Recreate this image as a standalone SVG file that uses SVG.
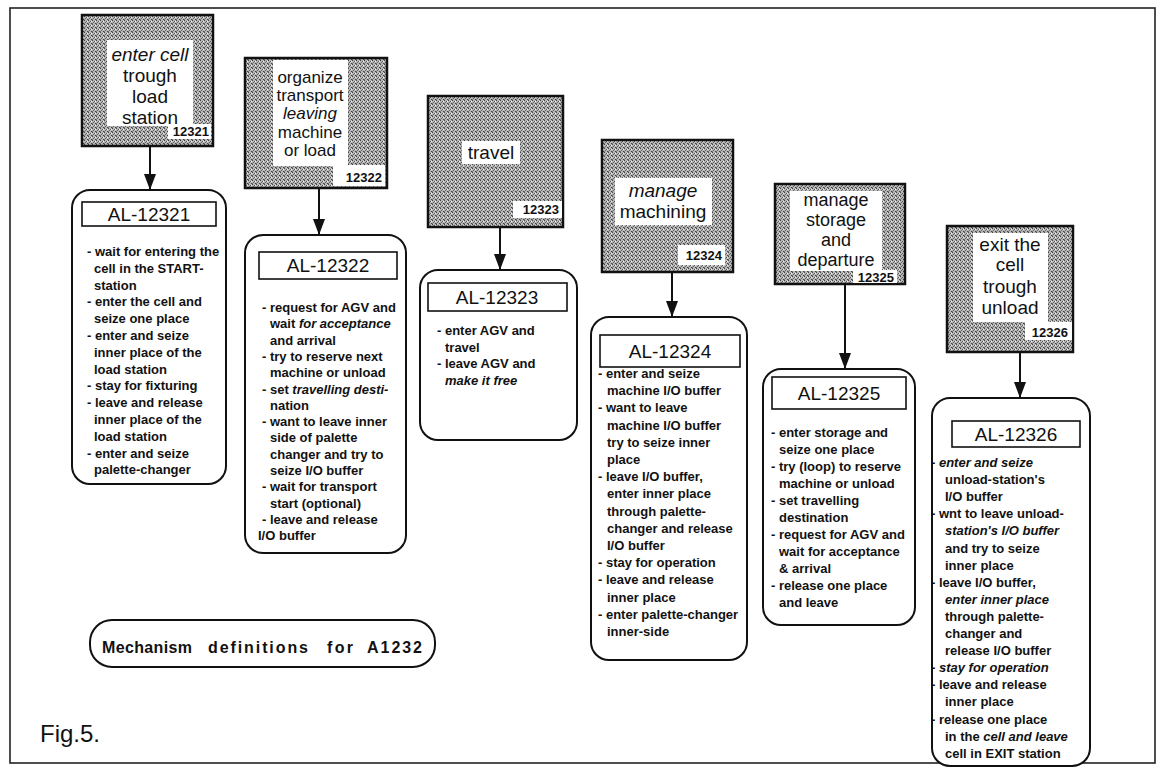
<svg xmlns="http://www.w3.org/2000/svg" width="1166" height="769" viewBox="0 0 1166 769">
<defs>
<pattern id="ht" width="4" height="4" patternUnits="userSpaceOnUse">
<rect width="4" height="4" fill="#b8b8b8"/>
<rect x="0" y="0" width="1" height="1" fill="#444"/>
<rect x="2" y="1" width="1" height="1" fill="#555"/>
<rect x="1" y="2" width="1" height="1" fill="#666"/>
<rect x="3" y="3" width="1" height="1" fill="#444"/>
<rect x="3" y="1" width="1" height="1" fill="#eee"/>
<rect x="0" y="3" width="1" height="1" fill="#777"/>
</pattern>
<marker id="ah" viewBox="0 0 16 12" refX="16" refY="6" markerWidth="16" markerHeight="12" markerUnits="userSpaceOnUse" orient="auto">
<path d="M0,0 L16,6 L0,12 Z" fill="#111"/>
</marker>
</defs>
<style>
.sh{fill:url(#ht);stroke:#111;stroke-width:2.5}
.wh{fill:#fff;stroke:none}
.rb{fill:#fff;stroke:#111;stroke-width:2}
.al{fill:#fff;stroke:#111;stroke-width:1.6}
.h{font-family:"Liberation Sans",Arial,sans-serif;font-size:19px;fill:#111;text-anchor:middle}
.h2{font-size:17px}
.h3{font-size:18px}
.n{font-family:"Liberation Sans",Arial,sans-serif;font-size:13px;font-weight:bold;fill:#111;text-anchor:end}
.at{font-family:"Liberation Sans",Arial,sans-serif;font-size:19px;fill:#111;text-anchor:middle}
.t{font-family:"Liberation Sans",Arial,sans-serif;font-size:13px;font-weight:bold;fill:#111}
.tt{font-family:"Liberation Sans",Arial,sans-serif;font-size:16px;font-weight:bold;fill:#111}
.i{font-style:italic}
.cn{fill:none;stroke:#111;stroke-width:2}
.fr{fill:none;stroke:#222;stroke-width:1.6}
</style>
<rect class="fr" x="10" y="8" width="1145" height="755"/>

<g id="connectors">
<line class="cn" x1="150" y1="146" x2="150" y2="190" marker-end="url(#ah)"/>
<line class="cn" x1="319" y1="188" x2="319" y2="235" marker-end="url(#ah)"/>
<line class="cn" x1="500" y1="227" x2="500" y2="270" marker-end="url(#ah)"/>
<line class="cn" x1="672" y1="272" x2="672" y2="317" marker-end="url(#ah)"/>
<line class="cn" x1="845" y1="284" x2="845" y2="369" marker-end="url(#ah)"/>
<line class="cn" x1="1020" y1="352" x2="1020" y2="398" marker-end="url(#ah)"/>
</g>

<g id="act-12321">
<rect class="sh" x="82" y="15" width="131" height="131"/>
<rect class="wh" x="107" y="40" width="86" height="86"/>
<rect class="wh" x="168" y="124" width="43" height="15"/>
<text class="h" x="150"><tspan class="i" x="150" y="61">enter cell</tspan><tspan x="150" y="82">trough</tspan><tspan x="150" y="103">load</tspan><tspan x="150" y="124">station</tspan></text>
<text class="n" x="209" y="136">12321</text>
</g>

<g id="act-12322">
<rect class="sh" x="245" y="58" width="142" height="130"/>
<rect class="wh" x="273" y="60" width="75" height="106"/>
<rect class="wh" x="333" y="165" width="52" height="21"/>
<text class="h h2"><tspan x="310" y="83">organize</tspan><tspan x="310" y="101">transport</tspan><tspan class="i" x="310" y="119">leaving</tspan><tspan x="310" y="138">machine</tspan><tspan x="310" y="156">or load</tspan></text>
<text class="n" x="382" y="182">12322</text>
</g>

<g id="act-12323">
<rect class="sh" x="428" y="96" width="135" height="131"/>
<rect class="wh" x="462" y="141" width="58" height="23"/>
<rect class="wh" x="513" y="201" width="49" height="17"/>
<text class="h" x="491" y="159">travel</text>
<text class="n" x="559" y="214">12323</text>
</g>

<g id="act-12324">
<rect class="sh" x="602" y="140" width="131" height="132"/>
<rect class="wh" x="615" y="178" width="97" height="47"/>
<rect class="wh" x="678" y="245" width="47" height="20"/>
<text class="h"><tspan class="i" x="663" y="197">manage</tspan><tspan x="663" y="218">machining</tspan></text>
<text class="n" x="722" y="260">12324</text>
</g>

<g id="act-12325">
<rect class="sh" x="775" y="184" width="130" height="100"/>
<rect class="wh" x="790" y="191" width="92" height="80"/>
<rect class="wh" x="853" y="270" width="44" height="13"/>
<text class="h h3"><tspan x="836" y="206">manage</tspan><tspan x="836" y="226">storage</tspan><tspan x="836" y="246">and</tspan><tspan x="836" y="266">departure</tspan></text>
<text class="n" x="894" y="282">12325</text>
</g>

<g id="act-12326">
<rect class="sh" x="947" y="226" width="126" height="126"/>
<rect class="wh" x="973" y="233" width="75" height="89"/>
<rect class="wh" x="1025" y="322" width="47" height="18"/>
<text class="h"><tspan x="1010" y="251">exit the</tspan><tspan x="1010" y="271">cell</tspan><tspan x="1010" y="293">trough</tspan><tspan x="1010" y="314">unload</tspan></text>
<text class="n" x="1068" y="337">12326</text>
</g>

<g id="al-12321">
<rect class="rb" x="72" y="190" width="154" height="294" rx="18"/>
<rect class="al" x="82" y="202" width="134" height="24"/>
<text class="at" x="149" y="221">AL-12321</text>
<text class="t">
<tspan x="87" y="256">- wait for entering the</tspan>
<tspan x="94" y="272.8">cell in the START-</tspan>
<tspan x="94" y="289.6">station</tspan>
<tspan x="87" y="306.4">- enter the cell and</tspan>
<tspan x="94" y="323.2">seize one place</tspan>
<tspan x="87" y="340">- enter and seize</tspan>
<tspan x="94" y="356.8">inner place of the</tspan>
<tspan x="94" y="373.6">load station</tspan>
<tspan x="87" y="390.4">- stay for fixturing</tspan>
<tspan x="87" y="407.2">- leave and release</tspan>
<tspan x="94" y="424">inner place of the</tspan>
<tspan x="94" y="440.8">load station</tspan>
<tspan x="87" y="457.6">- enter and seize</tspan>
<tspan x="94" y="474.4">palette-changer</tspan>
</text>
</g>

<g id="al-12322">
<rect class="rb" x="245" y="235" width="161" height="318" rx="18"/>
<rect class="al" x="259" y="252" width="138" height="27"/>
<text class="at" x="328" y="272">AL-12322</text>
<text class="t">
<tspan x="262" y="312">- request for AGV and</tspan>
<tspan x="270" y="328.3">wait <tspan class="i">for acceptance</tspan></tspan>
<tspan x="270" y="344.6">and arrival</tspan>
<tspan x="262" y="360.9">- try to reserve next</tspan>
<tspan x="270" y="377.2">machine or unload</tspan>
<tspan x="262" y="393.5">- set <tspan class="i">travelling desti-</tspan></tspan>
<tspan x="270" y="409.8">nation</tspan>
<tspan x="262" y="426.1">- want to leave inner</tspan>
<tspan x="270" y="442.4">side of palette</tspan>
<tspan x="270" y="458.7">changer and try to</tspan>
<tspan x="270" y="475">seize I/O buffer</tspan>
<tspan x="262" y="491.3">- wait for transport</tspan>
<tspan x="270" y="507.6">start (optional)</tspan>
<tspan x="262" y="523.9">- leave and release</tspan>
<tspan x="258" y="540.2">I/O buffer</tspan>
</text>
</g>

<g id="al-12323">
<rect class="rb" x="420" y="270" width="157" height="170" rx="18"/>
<rect class="al" x="428" y="283" width="139" height="28"/>
<text class="at" x="497" y="304">AL-12323</text>
<text class="t">
<tspan x="437" y="335">- enter AGV and</tspan>
<tspan x="445" y="352">travel</tspan>
<tspan x="437" y="368">- leave AGV and</tspan>
<tspan class="i" x="445" y="385">make it free</tspan>
</text>
</g>

<g id="al-12324">
<rect class="rb" x="591" y="317" width="156" height="343" rx="18"/>
<rect class="al" x="600" y="335" width="140" height="32"/>
<text class="at" x="670" y="358">AL-12324</text>
<text class="t">
<tspan x="598" y="378">- enter and seize</tspan>
<tspan x="607" y="395.2">machine I/O buffer</tspan>
<tspan x="598" y="412.4">- want to leave</tspan>
<tspan x="607" y="429.6">machine I/O buffer</tspan>
<tspan x="607" y="446.8">try to seize inner</tspan>
<tspan x="607" y="464">place</tspan>
<tspan x="598" y="481.2">- leave I/O buffer,</tspan>
<tspan x="607" y="498.4">enter inner place</tspan>
<tspan x="607" y="515.6">through palette-</tspan>
<tspan x="607" y="532.8">changer and release</tspan>
<tspan x="607" y="550">I/O buffer</tspan>
<tspan x="598" y="567.2">- stay for operation</tspan>
<tspan x="598" y="584.4">- leave and release</tspan>
<tspan x="607" y="601.6">inner place</tspan>
<tspan x="598" y="618.8">- enter palette-changer</tspan>
<tspan x="607" y="636">inner-side</tspan>
</text>
</g>

<g id="al-12325">
<rect class="rb" x="763" y="369" width="152" height="256" rx="18"/>
<rect class="al" x="772" y="377" width="134" height="32"/>
<text class="at" x="839" y="400">AL-12325</text>
<text class="t">
<tspan x="771" y="437">- enter storage and</tspan>
<tspan x="779" y="454">seize one place</tspan>
<tspan x="771" y="471">- try (loop) to reserve</tspan>
<tspan x="779" y="488">machine or unload</tspan>
<tspan x="771" y="505">- set travelling</tspan>
<tspan x="779" y="522">destination</tspan>
<tspan x="771" y="539">- request for AGV and</tspan>
<tspan x="779" y="556">wait for acceptance</tspan>
<tspan x="779" y="573">&amp; arrival</tspan>
<tspan x="771" y="590">- release one place</tspan>
<tspan x="779" y="607">and leave</tspan>
</text>
</g>

<g id="al-12326">
<rect class="rb" x="932" y="398" width="158" height="368" rx="18"/>
<rect class="al" x="952" y="421" width="128" height="26"/>
<text class="at" x="1016" y="441">AL-12326</text>
<text class="t">
<tspan x="931" y="467">- <tspan class="i">enter and seize</tspan></tspan>
<tspan x="945" y="484.1">unload-station's</tspan>
<tspan x="945" y="501.2">I/O buffer</tspan>
<tspan x="931" y="518.3">- wnt to leave unload-</tspan>
<tspan class="i" x="945" y="535.4">station's I/O buffer</tspan>
<tspan x="945" y="552.5">and try to seize</tspan>
<tspan x="945" y="569.6">inner place</tspan>
<tspan x="931" y="586.7">- leave I/O buffer,</tspan>
<tspan class="i" x="945" y="603.8">enter inner place</tspan>
<tspan x="945" y="620.9">through palette-</tspan>
<tspan x="945" y="638">changer and</tspan>
<tspan x="945" y="655.1">release I/O buffer</tspan>
<tspan x="931" y="672.2">- <tspan class="i">stay for operation</tspan></tspan>
<tspan x="931" y="689.3">- leave and release</tspan>
<tspan x="945" y="706.4">inner place</tspan>
<tspan x="931" y="723.5">- release one  place</tspan>
<tspan x="945" y="740.6">in the <tspan class="i">cell and leave</tspan></tspan>
<tspan x="945" y="757.7">cell in EXIT station</tspan>
</text>
</g>

<g id="title">
<rect class="rb" x="90" y="620" width="345" height="47" rx="22"/>
<text class="tt" x="102" y="653" textLength="90" lengthAdjust="spacing">Mechanism</text>
<text class="tt" x="208" y="653" textLength="100" lengthAdjust="spacing">definitions</text>
<text class="tt" x="327" y="653" textLength="26" lengthAdjust="spacing">for</text>
<text class="tt" x="367" y="653" textLength="55" lengthAdjust="spacing">A1232</text>
</g>

<text id="caption" x="40" y="742" style="font-family:'Liberation Sans',Arial,sans-serif;font-size:24px;fill:#111">Fig.5.</text>
</svg>
